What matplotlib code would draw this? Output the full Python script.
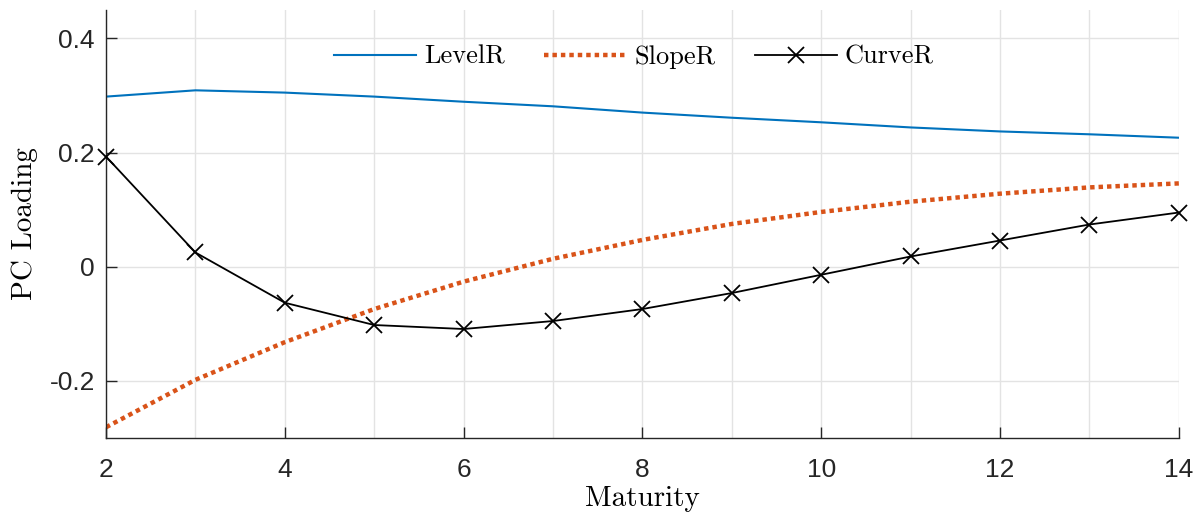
import matplotlib
matplotlib.use("Agg")
import matplotlib.pyplot as plt
import numpy as np

# maturities and principal component loadings
maturity = [2, 3, 4, 5, 6, 7, 8, 9, 10, 11, 12, 13, 14]
level_r = [0.298, 0.309, 0.305, 0.298, 0.289, 0.281, 0.270, 0.261, 0.253, 0.244, 0.237, 0.232, 0.226]
slope_r = [-0.281, -0.198, -0.132, -0.074, -0.026, 0.014, 0.047, 0.075, 0.096, 0.114, 0.128, 0.139, 0.146]
curve_r = [0.193, 0.025, -0.063, -0.102, -0.109, -0.095, -0.074, -0.046, -0.014, 0.018, 0.046, 0.074, 0.095]

xticks = [2, 4, 6, 8, 10, 12, 14]
yticks = [-0.2, 0, 0.2, 0.4]
ytick_labels = ['-0.2', '0', '0.2', '0.4']

plt.rcParams['font.family'] = ['Liberation Sans', 'DejaVu Sans']
plt.rcParams['axes.unicode_minus'] = False

fig = plt.figure(figsize=(11.98, 5.16), dpi=100)
ax = fig.add_axes([0.0885, 0.151, 0.8955, 0.830])

ax.plot(maturity, level_r, color='#0072BD', linewidth=1.5, label='LevelR')
ax.plot(maturity, slope_r, color='#D95319', linewidth=3.2, linestyle=(0, (1, 0.9)), label='SlopeR')
ax.plot(maturity, curve_r, color='black', linewidth=1.3, marker='x', markersize=11,
        markeredgewidth=1.3, label='CurveR', clip_on=False, zorder=4)

ax.set_xlim(2, 14)
ax.set_ylim(-0.3, 0.45)
ax.set_xticks(xticks)
ax.set_xticks(maturity, minor=True)
ax.set_yticks(yticks)
ax.set_yticklabels(ytick_labels)

ax.grid(True, which='both', axis='x', color='#e3e3e3', linewidth=1)
ax.grid(True, which='major', axis='y', color='#e3e3e3', linewidth=1)
ax.set_axisbelow(True)

ax.spines['top'].set_visible(False)
ax.spines['right'].set_visible(False)
for s in ['left', 'bottom']:
    ax.spines[s].set_color('#262626')
    ax.spines[s].set_linewidth(1.0)

ax.tick_params(axis='both', which='major', direction='in', length=8, width=1,
               labelsize=19, colors='#262626')
ax.tick_params(axis='y', which='major', pad=8)
ax.tick_params(axis='x', which='major', pad=14)
ax.tick_params(axis='x', which='minor', length=0)

ax.set_xlabel('Maturity', fontfamily='cmr10', fontsize=21, labelpad=3)
ax.set_ylabel('PC Loading', fontfamily='cmr10', fontsize=21, labelpad=8)

leg = ax.legend(loc='center', bbox_to_anchor=(0.492, 0.89), ncol=3, frameon=False,
                prop={'family': 'cmr10', 'size': 19}, handlelength=3.1, columnspacing=1.5,
                handletextpad=0.3)

fig.savefig('out.png', dpi=100)
